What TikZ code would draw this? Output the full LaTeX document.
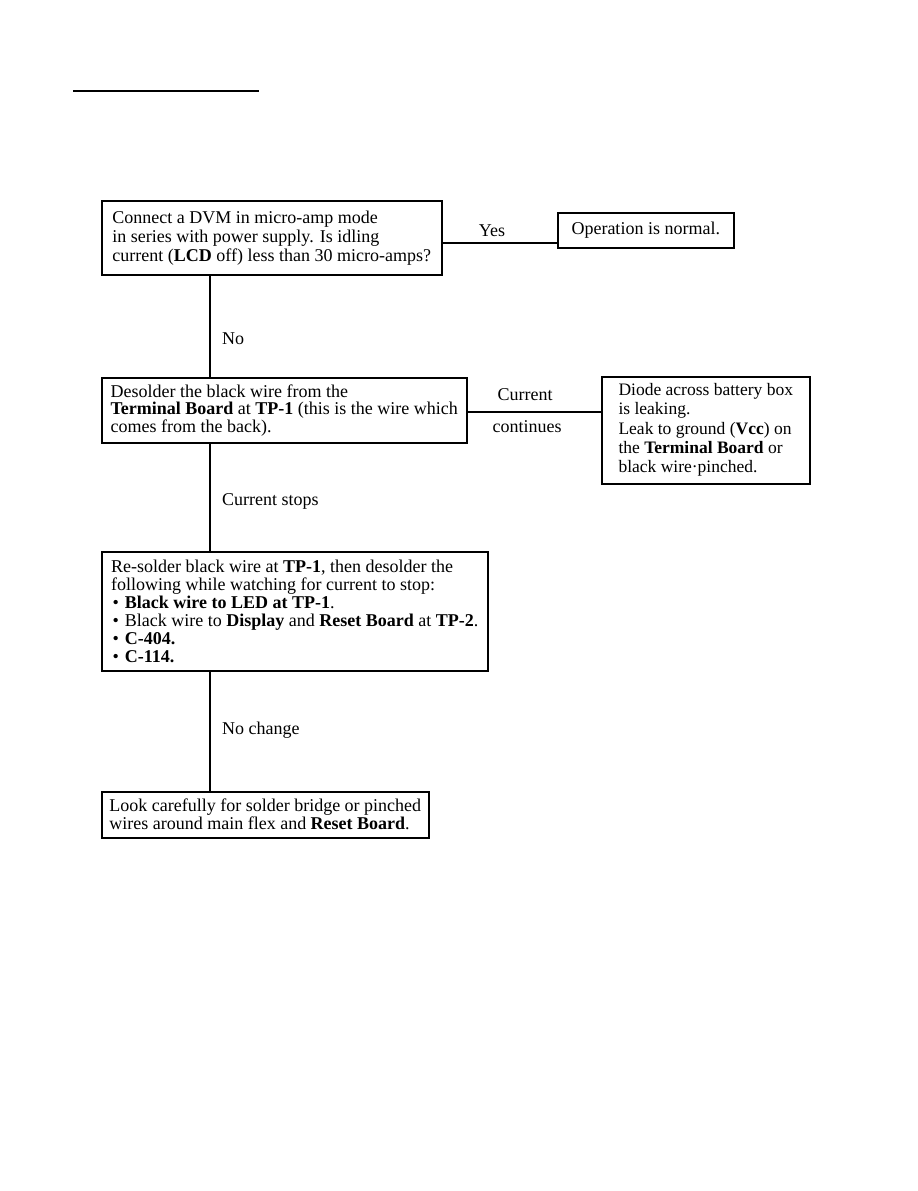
\documentclass[tikz,border=0pt]{standalone}
\usepackage{fontspec}
\setmainfont{Liberation Serif}
\newcommand{\bul}{\hspace*{1.5pt}\textbullet\hspace{6pt}}
\begin{document}
\begin{tikzpicture}[x=1pt,y=-1pt,
  box/.style={draw, line width=1.5pt, align=left, inner sep=0pt, font=\fontsize{18}{18}\selectfont},
  lbl/.style={font=\fontsize{18}{18}\selectfont, inner sep=0pt},
  conn/.style={line width=1.3pt}]
\useasboundingbox (0,0) rectangle (918,1191);
% title underline
\coordinate (u1) at (73,91);
\coordinate (u2) at (259,91);
\draw[line width=2.5pt] (u1) -- (u2);
% boxes
\node[box, anchor=north west, minimum width=340, minimum height=74, font=\fontsize{18}{19}\selectfont] (b1) at (101,200)
 {Connect a DVM in micro-amp mode\\in series with power supply. Is idling\\current (\textbf{LCD} off) less than 30 micro-amps?};
\node[box, anchor=north west, minimum width=176, minimum height=35] (op) at (557,212)
 {Operation is normal.};
\node[box, anchor=north west, minimum width=365, minimum height=65, font=\fontsize{18}{17.5}\selectfont] (b2) at (101,377)
 {Desolder the black wire from the\\\textbf{Terminal Board} at \textbf{TP-1} (this is the wire which\\comes from the back).};
\node[box, anchor=north west, minimum width=208, minimum height=107, font=\fontsize{17.5}{19}\selectfont] (b3) at (601,376)
 {Diode across battery box\\is leaking.\\[1pt]Leak to ground (\textbf{Vcc}) on\\the \textbf{Terminal Board} or\\black wire\textperiodcentered pinched.};
\node[box, anchor=north west, minimum width=386, minimum height=119] (b4) at (101,551)
 {Re-solder black wire at \textbf{TP-1}, then desolder the\\following while watching for current to stop:\\
 \bul\textbf{Black wire to LED at TP-1}.\\
 \bul Black wire to \textbf{Display} and \textbf{Reset Board} at \textbf{TP-2}.\\
 \bul\textbf{C-404.}\\
 \bul\textbf{C-114.}};
\node[box, anchor=north west, minimum width=327, minimum height=46] (b5) at (101,791)
 {Look carefully for solder bridge or pinched\\wires around main flex and \textbf{Reset Board}.};
% connectors
\draw[conn] (b1.east |- 0,243) -- (op.west |- 0,243);
\draw[conn] (b1.south -| 210,0) -- (b2.north -| 210,0);
\draw[conn] (b2.east |- 0,412) -- (b3.west |- 0,412);
\draw[conn] (b2.south -| 210,0) -- (b4.north -| 210,0);
\draw[conn] (b4.south -| 210,0) -- (b5.north -| 210,0);
% labels
\node[lbl] (lyes) at (492,231) {Yes};
\node[lbl, anchor=west] (lno) at (222,339) {No};
\node[lbl] (lcur) at (525,395) {Current};
\node[lbl] (lcont) at (527,427) {continues};
\node[lbl, anchor=west] (lstop) at (222,501) {Current stops};
\node[lbl, anchor=west] (lnoch) at (222,730) {No change};
\end{tikzpicture}
\end{document}
